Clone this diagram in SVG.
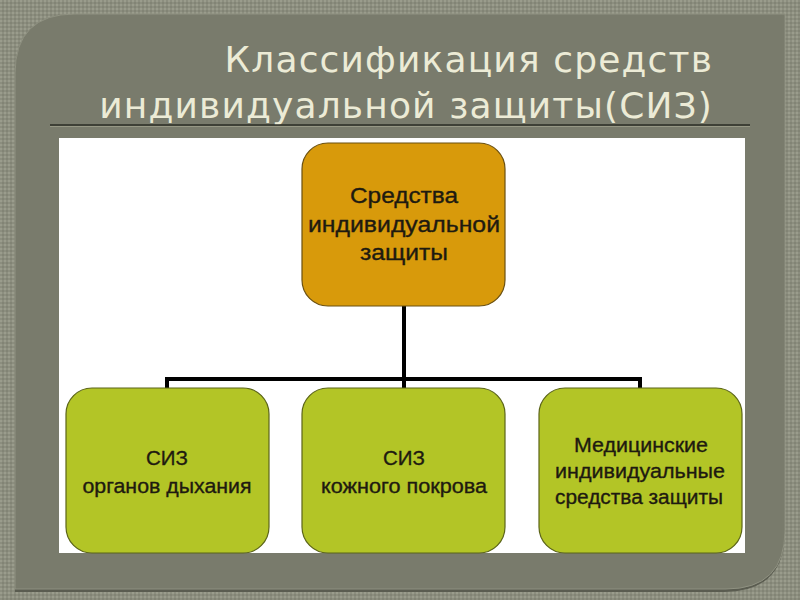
<svg xmlns="http://www.w3.org/2000/svg" width="800" height="600" viewBox="0 0 800 600">
<defs>
<pattern id="tex" width="4" height="4" patternUnits="userSpaceOnUse">
<rect width="4" height="4" fill="#8c8e7f"/>
<rect width="2" height="2" fill="#9a9c8c"/>
<rect x="2" y="2" width="2" height="2" fill="#828475"/>
</pattern>
</defs>
<style>
.title{font-family:"DejaVu Sans",sans-serif;font-size:36px;fill:#ecebd6;letter-spacing:1.15px;text-anchor:end}
.node text{font-family:"Liberation Sans",Arial,sans-serif;fill:#1e1a10;stroke:#1e1a10;stroke-width:0.35;text-anchor:middle}
.top text{font-size:22px}
.leaf text{font-size:20.5px}
.top rect{fill:#d89a0b;stroke:#6b5010;stroke-width:1.2}
.leaf rect{fill:#b3c526;stroke:#5b6418;stroke-width:1.2}
.conn{stroke:#000;stroke-width:4;fill:none}
</style>
<rect width="800" height="600" fill="url(#tex)"/>
<path d="M75 14 H785 V530 Q785 591 724 591 H15 V74 Q15 14 75 14 Z" fill="#5a5c50" transform="translate(0,1)"/>
<path d="M75 14 H785 V530 Q785 589 726 589 H15 V74 Q15 14 75 14 Z" fill="#797b6c" stroke="#8f9181" stroke-width="1"/>
<text class="title" x="713" y="72">Классификация средств</text>
<text class="title" x="713" y="118">индивидуальной защиты(СИЗ)</text>
<line x1="50" y1="125" x2="750" y2="125" stroke="#2b2d24" stroke-width="1.5"/>
<line x1="50" y1="126.5" x2="750" y2="126.5" stroke="#9ea08c" stroke-width="0.8"/>
<rect x="59" y="138" width="686" height="415" fill="#ffffff"/>
<g id="connectors">
<path class="conn" d="M404 306 V379"/>
<path class="conn" d="M167 389 V379 H640 V389"/>
<path class="conn" d="M404 379 V389"/>
</g>
<g id="node-root" class="node top">
<rect x="302" y="143" width="203" height="163" rx="26"/>
<text x="404" y="203" textLength="108" lengthAdjust="spacingAndGlyphs">Средства</text>
<text x="404" y="232" textLength="192" lengthAdjust="spacingAndGlyphs">индивидуальной</text>
<text x="404" y="260" textLength="88" lengthAdjust="spacingAndGlyphs">защиты</text>
</g>
<g id="node-resp" class="node leaf">
<rect x="66" y="388" width="203" height="165" rx="26"/>
<text x="167" y="465">СИЗ</text>
<text x="167" y="493" textLength="169" lengthAdjust="spacingAndGlyphs">органов дыхания</text>
</g>
<g id="node-skin" class="node leaf">
<rect x="302" y="388" width="203" height="165" rx="26"/>
<text x="404" y="465">СИЗ</text>
<text x="404" y="493" textLength="166" lengthAdjust="spacingAndGlyphs">кожного покрова</text>
</g>
<g id="node-med" class="node leaf">
<rect x="539" y="388" width="203" height="165" rx="26"/>
<text x="641" y="452" textLength="134" lengthAdjust="spacingAndGlyphs">Медицинские</text>
<text x="640" y="478" textLength="170" lengthAdjust="spacingAndGlyphs">индивидуальные</text>
<text x="639" y="504" textLength="168" lengthAdjust="spacingAndGlyphs">средства защиты</text>
</g>
</svg>
